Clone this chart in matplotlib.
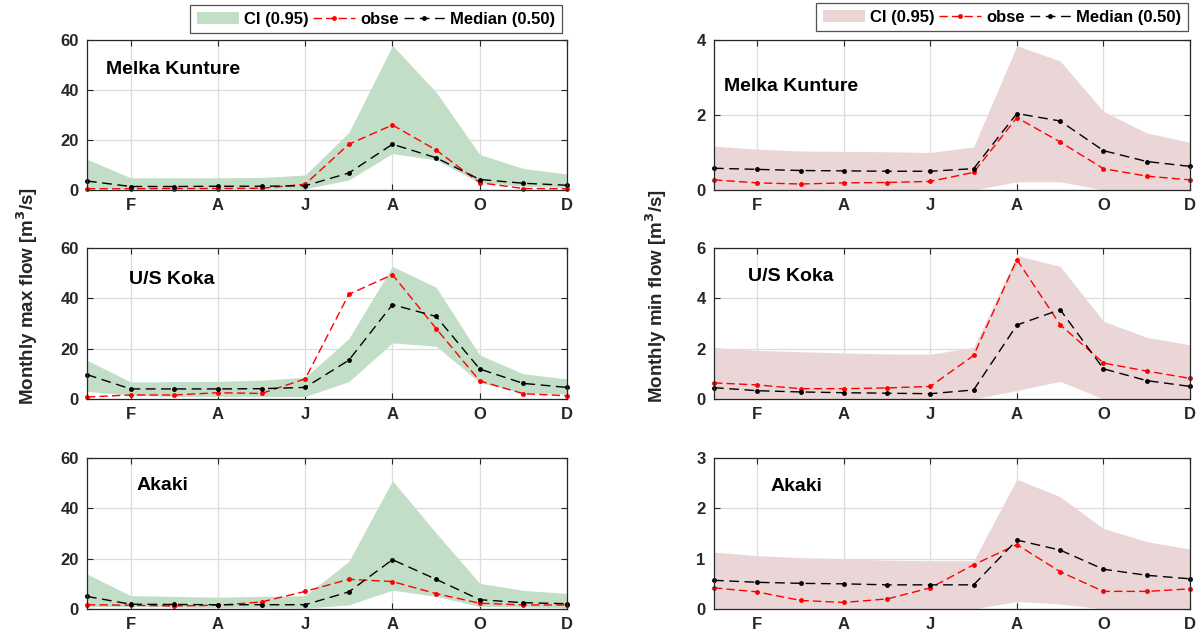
import matplotlib
matplotlib.use("Agg")
import matplotlib.pyplot as plt
import numpy as np

plt.rcParams['font.family'] = ['Liberation Sans', 'DejaVu Sans']
plt.rcParams['font.weight'] = 'bold'

months = np.arange(1, 13)
tick_pos = [2, 4, 6, 8, 10, 12]
tick_lab = ['F', 'A', 'J', 'A', 'O', 'D']

stations = ['Melka Kunture', 'U/S Koka', 'Akaki']

# ---- monthly max flow (left column) ----
max_hi = [
    [12.3, 4.9, 4.9, 4.9, 5.0, 6.0, 23.0, 57.8, 39.2, 14.2, 8.6, 6.4],
    [15.4, 6.8, 6.9, 7.0, 7.5, 8.6, 24.0, 52.7, 44.4, 17.5, 10.0, 8.0],
    [13.9, 5.3, 5.0, 4.7, 5.0, 5.3, 18.9, 51.0, 30.2, 10.2, 7.4, 6.2],
]
max_lo = [
    [0.8, 0.5, 0.5, 0.5, 0.5, 0.5, 4.0, 14.6, 12.0, 2.9, 1.5, 1.0],
    [3.0, 1.5, 1.0, 1.0, 1.0, 1.0, 6.9, 22.3, 21.0, 6.5, 2.4, 2.0],
    [1.0, 1.0, 0.8, 0.5, 0.5, 0.3, 1.6, 7.5, 5.0, 1.0, 0.8, 0.5],
]
max_obs = [
    [0.5, 0.5, 0.6, 0.6, 0.7, 2.3, 18.3, 26.0, 16.0, 2.9, 0.6, 0.5],
    [0.8, 1.6, 1.6, 2.5, 2.2, 8.0, 41.6, 49.4, 28.0, 7.2, 2.1, 1.3],
    [1.7, 1.5, 1.2, 1.5, 2.8, 7.0, 11.8, 10.9, 6.1, 2.3, 1.6, 1.6],
]
max_med = [
    [3.6, 1.4, 1.4, 1.5, 1.5, 1.7, 6.8, 18.3, 12.9, 4.2, 2.7, 1.9],
    [9.7, 4.0, 4.0, 4.0, 4.1, 4.6, 15.4, 37.5, 32.8, 11.9, 6.2, 4.6],
    [5.0, 1.9, 1.8, 1.7, 1.7, 1.7, 6.8, 19.6, 11.8, 3.7, 2.5, 2.1],
]

# ---- monthly min flow (right column) ----
min_hi = [
    [1.17, 1.09, 1.04, 1.03, 1.02, 1.00, 1.15, 3.85, 3.44, 2.10, 1.52, 1.27],
    [2.05, 1.93, 1.88, 1.83, 1.79, 1.78, 2.05, 5.70, 5.27, 3.09, 2.45, 2.15],
    [1.13, 1.06, 1.02, 1.00, 0.97, 0.96, 0.96, 2.58, 2.23, 1.60, 1.34, 1.19],
]
min_lo = [
    [0.0, 0.0, 0.0, 0.0, 0.0, 0.0, 0.0, 0.22, 0.22, 0.0, 0.0, 0.0],
    [0.0, 0.0, 0.0, 0.0, 0.0, 0.0, 0.0, 0.34, 0.70, 0.0, 0.0, 0.0],
    [0.0, 0.0, 0.0, 0.0, 0.0, 0.0, 0.0, 0.15, 0.10, 0.0, 0.0, 0.0],
]
min_obs = [
    [0.27, 0.19, 0.16, 0.19, 0.20, 0.23, 0.47, 1.93, 1.28, 0.57, 0.37, 0.27],
    [0.64, 0.56, 0.41, 0.41, 0.44, 0.50, 1.73, 5.54, 2.95, 1.43, 1.11, 0.82],
    [0.42, 0.34, 0.17, 0.13, 0.20, 0.42, 0.88, 1.28, 0.74, 0.35, 0.35, 0.40],
]
min_med = [
    [0.58, 0.55, 0.52, 0.51, 0.50, 0.50, 0.57, 2.04, 1.84, 1.05, 0.76, 0.63],
    [0.45, 0.33, 0.28, 0.25, 0.23, 0.21, 0.36, 2.94, 3.55, 1.20, 0.73, 0.50],
    [0.57, 0.53, 0.51, 0.50, 0.48, 0.48, 0.48, 1.37, 1.17, 0.79, 0.67, 0.60],
]

max_ylim = [60, 60, 60]
min_ylim = [4, 6, 3]
max_yticks = [[0, 20, 40, 60]] * 3
min_yticks = [[0, 2, 4], [0, 2, 4, 6], [0, 1, 2, 3]]

# text position of station name (axes fraction)
max_txt = [(0.04, 0.80), (0.088, 0.79), (0.104, 0.82)]
min_txt = [(0.021, 0.69), (0.071, 0.81), (0.118, 0.81)]

green = '#c3dec7'
pink = '#ebd6d7'
tick_col = '#262626'

W, H = 1202, 641
fig = plt.figure(figsize=(W / 100, H / 100), dpi=100)

rows_px = [(40, 190), (248, 399), (458, 609)]


def make_ax(x0, x1, y0, y1):
    return fig.add_axes([x0 / W, 1 - y1 / H, (x1 - x0) / W, (y1 - y0) / H])


def style(ax, ylim, yticks):
    ax.set_xlim(1, 12)
    ax.set_ylim(0, ylim)
    ax.set_xticks(tick_pos)
    ax.set_xticklabels(tick_lab)
    ax.set_yticks(yticks)
    ax.set_axisbelow(True)
    ax.grid(True, color='#dcdcdc', linewidth=0.9)
    ax.tick_params(direction='in', top=True, right=True, length=4,
                   labelsize=12, colors=tick_col, pad=6)
    for lab in ax.get_xticklabels() + ax.get_yticklabels():
        lab.set_fontweight('bold')
    for s in ax.spines.values():
        s.set_color(tick_col)
        s.set_linewidth(0.9)


def draw(ax, lo, hi, obs, med, color, name, pos):
    ci = ax.fill_between(months, lo, hi, color=color, linewidth=0, label='CI (0.95)')
    ob, = ax.plot(months, obs, color='red', linewidth=1.0, dashes=(6, 3),
                  marker='.', markersize=5, label='obse', clip_on=False)
    md, = ax.plot(months, med, color='black', linewidth=1.0, dashes=(7, 4),
                  marker='.', markersize=5, label='Median (0.50)', clip_on=False)
    ax.text(pos[0], pos[1], name, transform=ax.transAxes, fontsize=14,
            fontweight='bold', color='black', va='center', ha='left')
    return ci, ob, md


for i in range(3):
    y0, y1 = rows_px[i]
    axl = make_ax(87, 567, y0, y1)
    style(axl, max_ylim[i], max_yticks[i])
    hl = draw(axl, max_lo[i], max_hi[i], max_obs[i], max_med[i], green,
              stations[i], max_txt[i])
    axr = make_ax(714, 1190, y0, y1)
    style(axr, min_ylim[i], min_yticks[i])
    hr = draw(axr, min_lo[i], min_hi[i], min_obs[i], min_med[i], pink,
              stations[i], min_txt[i])
    if i == 0:
        legl, legr = hl, hr

for handles, right_px, top_px in [(legl, 562, 5), (legr, 1188, 3)]:
    leg = fig.legend(handles, [h.get_label() for h in handles],
                     loc='upper right', bbox_to_anchor=(right_px / W, 1 - top_px / H),
                     ncol=3, frameon=True, fancybox=False, edgecolor=tick_col,
                     prop={'weight': 'bold', 'size': 12}, handlelength=2.5,
                     handletextpad=0.3, columnspacing=0.3, borderpad=0.4,
                     borderaxespad=0)
    leg.get_frame().set_linewidth(0.9)

fig.text(27 / W, 1 - 296 / H, 'Monthly max flow [m$^3$/s]', rotation=90,
         fontsize=13.5, fontweight='bold', color=tick_col, ha='center', va='center')
fig.text(656 / W, 1 - 296 / H, 'Monthly min flow [m$^3$/s]', rotation=90,
         fontsize=13.5, fontweight='bold', color=tick_col, ha='center', va='center')

fig.savefig('out.png', dpi=100)
